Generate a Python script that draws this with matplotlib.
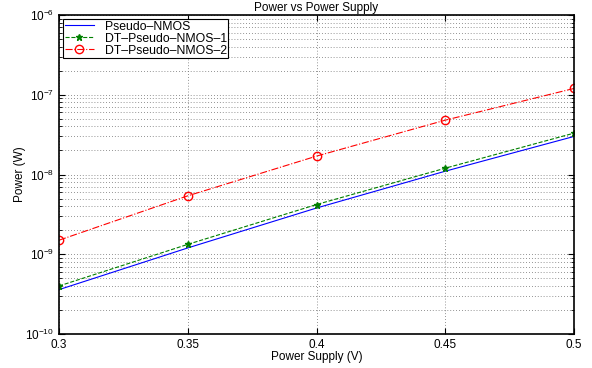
import matplotlib
matplotlib.use("Agg")
import matplotlib.pyplot as plt
from matplotlib.ticker import NullFormatter
import numpy as np

# data
supply = [0.3, 0.35, 0.4, 0.45, 0.5]
pseudo_nmos = [3.6e-10, 1.2e-9, 3.8e-9, 1.1e-8, 3.0e-8]
dt_pseudo_1 = [4.0e-10, 1.33e-9, 4.2e-9, 1.2e-8, 3.3e-8]
dt_pseudo_2 = [1.5e-9, 5.4e-9, 1.7e-8, 4.8e-8, 1.2e-7]

plt.rcParams['font.family'] = ['Liberation Sans', 'DejaVu Sans']
plt.rcParams['font.size'] = 8.5

fig = plt.figure(figsize=(5.92, 3.68), dpi=100)
ax = fig.add_axes([59 / 592, 1 - 334 / 368, (574 - 59) / 592, (334 - 15) / 368])

ax.semilogy(supply, pseudo_nmos, '-', color='blue', lw=0.8, label='Pseudo\u2013NMOS')
ax.semilogy(supply, dt_pseudo_1, '--', color=(0, 0.5, 0), lw=0.8, marker='*',
            ms=5, label='DT\u2013Pseudo\u2013NMOS\u20131')
ax.semilogy(supply, dt_pseudo_2, '-.', color='red', lw=0.8, marker='o', ms=6,
            mfc='none', label='DT\u2013Pseudo\u2013NMOS\u20132')

ax.set_xlim(0.3, 0.5)
ax.set_ylim(1e-10, 1e-6)
ax.set_xticks([0.3, 0.35, 0.4, 0.45, 0.5])
ax.set_xticklabels(['0.3', '0.35', '0.4', '0.45', '0.5'])
ax.yaxis.set_minor_formatter(NullFormatter())

ax.grid(True, which='major', linestyle=(0, (1, 2.5)), color='#707070', lw=0.6)
ax.grid(True, which='minor', axis='y', linestyle=(0, (1, 2.5)), color='#707070', lw=0.6)
ax.tick_params(which='both', direction='in', top=True, right=True, labelsize=8.5)
ax.tick_params(which='major', length=4)
ax.tick_params(which='minor', length=2)
for s in ax.spines.values():
    s.set_linewidth(1.2)

ax.set_title('Power vs Power Supply', fontsize=8.5, pad=3)
ax.set_xlabel('Power Supply (V)', fontsize=8.5, labelpad=0)
ax.set_ylabel('Power (W)', fontsize=8.5)
ax.yaxis.set_label_coords(-0.064, 0.5)

leg = ax.legend(loc='upper left', fontsize=8.8, fancybox=False, framealpha=1,
                edgecolor='black', borderaxespad=0.35, handlelength=2.4,
                borderpad=0.1, labelspacing=0.0, handletextpad=0.9)
leg.get_frame().set_linewidth(0.8)

fig.savefig('out.png', dpi=100)
